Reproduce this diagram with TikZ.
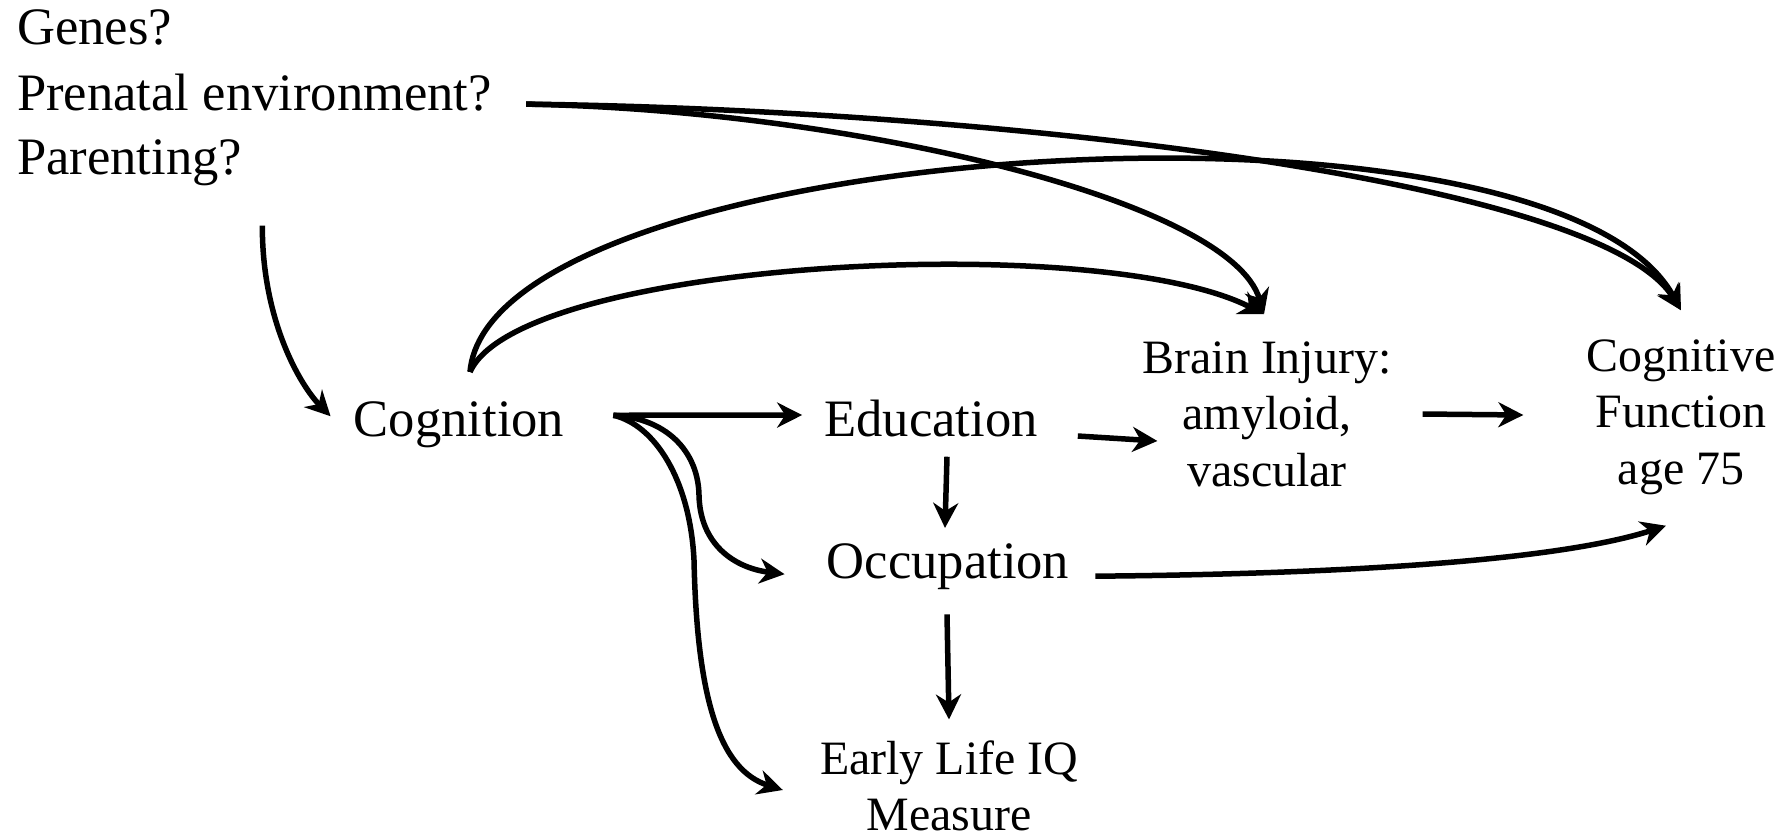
\documentclass[tikz,border=0pt]{standalone}
\usepackage{fontspec}
\setmainfont{Liberation Serif}
\usetikzlibrary{arrows.meta,calc}
\begin{document}
\begin{tikzpicture}[x=1pt,y=-1pt,
  big/.style={font=\fontsize{52.6}{64}\selectfont, inner sep=0pt},
  small/.style={font=\fontsize{47.9}{56.5}\selectfont, inner sep=0pt, align=center},
  conn/.style={line width=5.5pt, -{Stealth[length=25pt,width=25pt,inset=8pt]}},
]
\useasboundingbox (0,0) rectangle (1789,839);
\node[big, anchor=base west] (genes) at (17,44) {Genes?};
\node[big, anchor=base west] (prenatal) at (17,110) {Prenatal environment?};
\node[big, anchor=base west] (parenting) at (17,174) {Parenting?};
\node[big, anchor=base] (cog) at (459,436) {Cognition};
\node[big, anchor=base] (edu) at (931,436) {Education};
\node[big, anchor=base] (occ) at (948,578) {Occupation};
\node[small] (iq) at (949,786) {Early Life IQ\\Measure};
\node[small] (brain) at (1267,414) {Brain Injury:\\amyloid,\\vascular};
\node[small] (cf) at (1681,417) {Cognitive\\Function\\age 75};

\draw[conn] ($(parenting.south east)+(20,40)$) .. controls (262,320) and (300,385) .. ($(cog.west)+(-23,-8)$);
\draw[conn] ($(cog.east)+(49,-9)$) -- ($(edu.west)+(-22,-3)$);
\draw[conn] ($(cog.east)+(49,-9)$) .. controls (665,418) and (698,450) .. (699,495) .. controls (700,545) and (735,568) .. ($(occ.west)+(-42,8)$);
\draw[conn] ($(cog.east)+(49,-9)$) .. controls (655,425) and (690,480) .. (694,560) .. controls (697,700) and (720,770) .. ($(iq.west)+(-37,4)$);
\draw[conn] ($(edu.south)+(16,20)$) -- ($(occ.north)+(-3,-15)$);
\draw[conn] ($(occ.south)+(-1,25)$) -- ($(iq.north)+(0,-21)$);
\draw[conn] ($(edu.east)+(40,18)$) -- ($(brain.west)+(15,27)$);
\draw[conn] ($(brain.east)+(31,0)$) -- ($(cf.west)+(-63,-2)$);
\draw[conn] ($(occ.east)+(26,10)$) .. controls (1350,574) and (1560,560) .. ($(cf.south)+(-15,31)$);
\draw[conn] ($(prenatal.east)+(34,12)$) .. controls (850,110) and (1230,200) .. ($(brain.north)+(-3,-27)$);
\draw[conn] ($(prenatal.east)+(34,12)$) .. controls (1000,110) and (1600,180) .. ($(cf.north)+(0,-29)$);
\draw[conn] ($(cog.north)+(11,-29)$) .. controls (490,140) and (1550,70) .. ($(cf.north)+(0,-29)$);
\draw[conn] ($(cog.north)+(11,-29)$) .. controls (520,260) and (1100,230) .. ($(brain.north)+(-3,-27)$);
\end{tikzpicture}
\end{document}
